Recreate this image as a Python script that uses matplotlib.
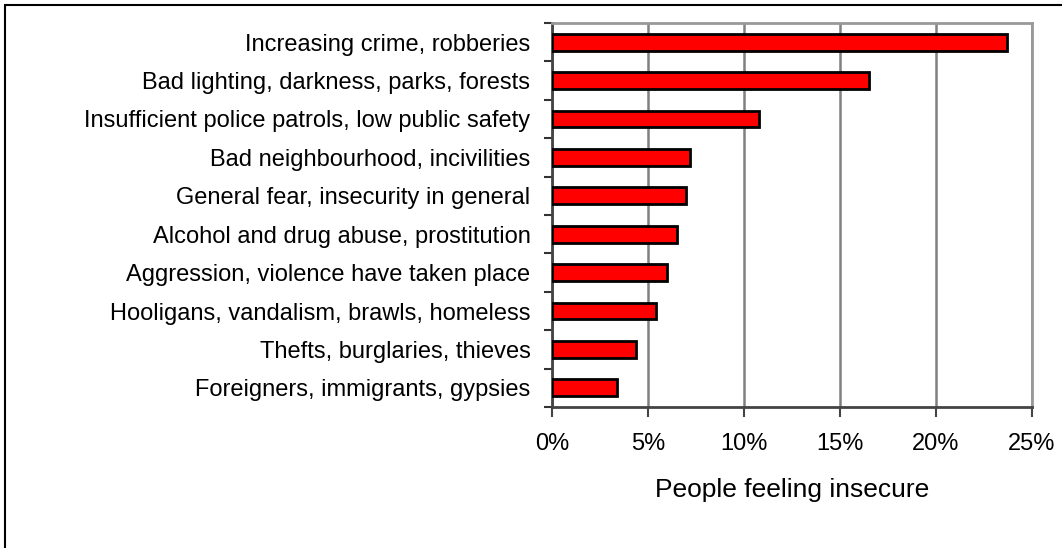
import matplotlib
matplotlib.use("Agg")
from matplotlib import pyplot as plt
from matplotlib.patches import Rectangle
from matplotlib.ticker import FuncFormatter, FixedLocator

plt.rcParams["font.family"] = ["Liberation Sans", "DejaVu Sans"]

# Reasons for feeling insecure (share of people)
categories = [
    "Increasing crime, robberies",
    "Bad lighting, darkness, parks, forests",
    "Insufficient police patrols, low public safety",
    "Bad neighbourhood, incivilities",
    "General fear, insecurity in general",
    "Alcohol and drug abuse, prostitution",
    "Aggression, violence have taken place",
    "Hooligans, vandalism, brawls, homeless",
    "Thefts, burglaries, thieves",
    "Foreigners, immigrants, gypsies",
]
shares = [0.237, 0.165, 0.108, 0.072, 0.070, 0.065, 0.060, 0.054, 0.044, 0.034]

fig = plt.figure(figsize=(10.62, 5.48), dpi=100)
# outer chart border
fig.patches.append(Rectangle((5 / 1062, -0.1), 1.2, 1 - 5 / 548 + 0.1,
                             transform=fig.transFigure, fill=False,
                             edgecolor="black", linewidth=1.5))

ax = fig.add_axes([552 / 1062, 1 - 407 / 548, 480 / 1062, 384 / 548])

ypos = list(range(len(categories)))
ax.barh(ypos, shares, height=0.44, color="#ff0000", edgecolor="black",
        linewidth=2, zorder=3)
ax.set_ylim(len(categories) - 0.5, -0.5)
ax.set_xlim(0, 0.25)

ax.set_yticks(ypos)
ax.set_yticklabels(categories, fontsize=17)
ax.yaxis.set_minor_locator(FixedLocator([i - 0.5 for i in range(len(categories) + 1)]))
ax.tick_params(axis="y", which="major", length=0, pad=15.5)
ax.tick_params(axis="y", which="minor", length=6, width=1.5, color="#333333")

ax.set_xticks([0, 0.05, 0.10, 0.15, 0.20, 0.25])
ax.xaxis.set_major_formatter(FuncFormatter(lambda v, p: f"{v * 100:.0f}%"))
ax.tick_params(axis="x", length=7, width=1.5, color="#444444", labelsize=17, pad=12)
ax.set_xlabel("People feeling insecure", fontsize=19, labelpad=16)

ax.grid(axis="x", color="#808080", linewidth=1.8, zorder=0)
ax.set_axisbelow(True)

for side in ["top", "right"]:
    ax.spines[side].set_color("#999999")
    ax.spines[side].set_linewidth(2)
for side in ["left", "bottom"]:
    ax.spines[side].set_color("#444444")
    ax.spines[side].set_linewidth(2)

fig.savefig("out.png", dpi=100)
